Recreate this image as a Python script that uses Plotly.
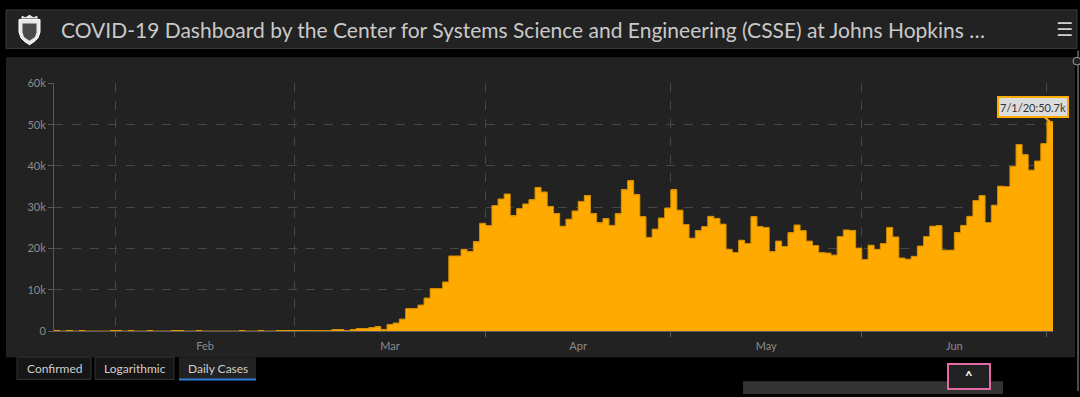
import pandas as pd
import plotly.graph_objects as go

# ---------------- data ----------------
start_date = "2020-01-22"
end_date = "2020-07-01"

jan_vals = [1, 0, 1, 0, 3, 0, 0, 0, 0, 2]
feb_vals = [1, 0, 3, 0, 0, 1, 0, 0, 0, 1, 1, 0, 0, 1, 0, 0, 0, 0, 0, 0,
            2, 0, 0, 20, 0, 0, 1, 1, 7]
mar_vals = [40, 70, 70, 90, 110, 100, 300, 300, 100, 300, 550, 550, 800, 1000,
            250, 1600, 1950, 2900, 5400, 5400, 6300, 8000, 10300, 10300, 11900,
            18200, 18200, 19800, 19200, 21600, 26100]
apr_vals = [25500, 30400, 32000, 33200, 27900, 29700, 30800, 31800, 34800, 33700,
            30200, 28500, 25400, 27100, 29100, 31400, 32800, 28400, 26200, 27200,
            25600, 28400, 34200, 36400, 33000, 27700, 22700, 24700, 27400, 29800]
may_vals = [34200, 29300, 25800, 22500, 24300, 25300, 27800, 27300, 25900, 19800,
            19000, 22000, 21200, 27700, 25300, 25100, 19200, 21800, 20500, 23800,
            25700, 24300, 21800, 20700, 19000, 18900, 18400, 22900, 24500, 24300,
            20100]
jun_vals = [17300, 20800, 19800, 21200, 25100, 22800, 17700, 17400, 18100, 20600,
            22900, 25400, 25500, 19600, 19600, 23800, 25600, 27800, 31600, 32800,
            26300, 30500, 35100, 35000, 39900, 45200, 42700, 39000, 41200, 45400]
jul_vals = [50700]

daily_cases = jan_vals + feb_vals + mar_vals + apr_vals + may_vals + jun_vals + jul_vals
dates = pd.date_range(start_date, end_date, freq="D")

y_tick_vals = [0, 10000, 20000, 30000, 40000, 50000, 60000]
y_tick_text = ["0", "10k", "20k", "30k", "40k", "50k", "60k"]

tab_labels = ["Confirmed", "Logarithmic", "Daily Cases"]
title_text = "COVID-19 Dashboard by the Center for Systems Science and Engineering (CSSE) at Johns Hopkins \u2026"
tooltip_text = "7/1/20:50.7k"

# ---------------- styling ----------------
W, H = 1080, 397
BAR = "#FFAA00"
PANEL = "#222222"
FONT = "Lato"


def px(x):
    return x / W


def py(y):
    return 1 - y / H


def rect(x0, y0, x1, y1, fill, line=None, lw=1, layer="below"):
    return dict(type="rect", xref="paper", yref="paper",
                x0=px(x0), x1=px(x1), y0=py(y1), y1=py(y0),
                fillcolor=fill, line=dict(color=line or fill, width=lw if line else 0),
                layer=layer)


fig = go.Figure()

fig.add_trace(go.Bar(
    x=dates, y=daily_cases,
    xperiod=86400000, xperiodalignment="middle",
    marker=dict(color=BAR, line=dict(width=0)),
    hovertemplate="%{x|%-m/%-d/%y}: %{y}<extra></extra>",
    showlegend=False,
))

# step outline on top of the bars
step_x = list(dates) + [dates[-1] + pd.Timedelta(days=1)]
step_y = daily_cases + [daily_cases[-1]]
fig.add_trace(go.Scatter(
    x=step_x, y=step_y, mode="lines", line=dict(color="#C98600", width=1, shape="hv"),
    hoverinfo="skip", showlegend=False,
))

x_range = [dates[0], dates[-1] + pd.Timedelta(days=1)]

shapes = [
    # title bar
    rect(6, 3, 1077, 43, "#222222", "#3a3a3a"),
    # chart panel
    rect(6, 52, 1075, 362, PANEL),
    # tabs
    rect(17, 362, 91, 385, "#161616", "#333333"),
    rect(95, 362, 174, 385, "#161616", "#333333"),
    rect(179, 362, 256, 385, PANEL),
    dict(type="line", xref="paper", yref="paper", x0=px(179), x1=px(256),
         y0=py(385), y1=py(385), line=dict(color="#2f7fd8", width=2)),
    # bottom right elements
    rect(743, 387, 1003, 400, "#333333"),
    rect(948, 369, 990, 395, "#222222", "#e36aa6", 2, layer="above"),
    # right scrollbar line
    dict(type="line", xref="paper", yref="paper", x0=px(1078), x1=px(1078),
         y0=py(45), y1=py(397), line=dict(color="#9a9a9a", width=1)),
    dict(type="circle", xref="paper", yref="paper", x0=px(1073), x1=px(1081),
         y0=py(60), y1=py(52), line=dict(color="#9a9a9a", width=1), fillcolor="#222222"),
]

# shield logo
def path_from(points):
    s = "M {:.5f},{:.5f}".format(px(points[0][0]), py(points[0][1]))
    for (a, b) in points[1:]:
        s += " L {:.5f},{:.5f}".format(px(a), py(b))
    return s + " Z"

shield = [(19, 13), (40, 13), (40, 26), (38, 32), (34, 36), (29.5, 39), (25, 36), (21, 32), (19, 26)]
shapes.append(dict(type="path", xref="paper", yref="paper", path=path_from(shield),
                   fillcolor="#e8e8e8", line=dict(color="#ffffff", width=1), layer="above"))
inner = [(22.5, 17), (36.5, 17), (36.5, 26), (35, 31), (29.5, 35), (24, 31), (22.5, 26)]
shapes.append(dict(type="path", xref="paper", yref="paper", path=path_from(inner),
                   fillcolor="#4a4a4a", line=dict(color="#4a4a4a", width=0), layer="above"))
crown = [(21, 12), (22, 9), (25.5, 10.5), (29.5, 8), (33.5, 10.5), (37, 9), (38, 12)]
shapes.append(dict(type="path", xref="paper", yref="paper", path=path_from(crown),
                   fillcolor="#e8e8e8", line=dict(color="#e8e8e8", width=0), layer="above"))

annotations = [
    dict(xref="paper", yref="paper", x=px(59), y=py(23), xanchor="left", yanchor="middle",
         text=title_text, showarrow=False, font=dict(family=FONT, size=21, color="#c9c9c9")),
    dict(xref="paper", yref="paper", x=px(1064), y=py(23), xanchor="center", yanchor="middle",
         text="\u2630", showarrow=False, font=dict(family="DejaVu Sans", size=19, color="#cfcfcf")),
    dict(xref="paper", yref="paper", x=px(969), y=py(381), xanchor="center", yanchor="middle",
         text="<b>^</b>", showarrow=False, font=dict(family=FONT, size=13, color="#ffffff")),
    # tooltip
    dict(x=dates[-1] + pd.Timedelta(hours=12), y=daily_cases[-1], xref="x", yref="y",
         text=tooltip_text, showarrow=True, ax=-17, ay=-15, arrowhead=0, arrowwidth=2,
         arrowcolor=BAR, standoff=0, bgcolor="#dcdcdc", bordercolor=BAR, borderwidth=2,
         borderpad=1, width=66, height=16,
         font=dict(family=FONT, size=11, color="#333333")),
]
tab_centers = [54, 134.5, 217.5]
for lbl, cx in zip(tab_labels, tab_centers):
    annotations.append(dict(xref="paper", yref="paper", x=px(cx), y=py(374),
                            xanchor="center", yanchor="middle", text=lbl, showarrow=False,
                            font=dict(family=FONT, size=12, color="#cfcfcf")))

fig.update_layout(
    width=W, height=H,
    margin=dict(l=0, r=0, t=0, b=0),
    paper_bgcolor="#000000",
    plot_bgcolor="rgba(0,0,0,0)",
    bargap=0,
    shapes=shapes,
    annotations=annotations,
    font=dict(family=FONT, color="#8a8a8a"),
    xaxis=dict(
        domain=[px(54), px(1053)],
        type="date", range=x_range,
        tick0="2020-02-01", dtick="M1", tickformat="%b", ticklabelmode="period",
        showgrid=True, gridcolor="#474747", griddash="dash", gridwidth=1,
        ticks="outside", ticklen=5, tickcolor="#5a5a5a",
        showline=True, linecolor="#5a5a5a", linewidth=1,
        tickfont=dict(family=FONT, size=11, color="#8c8c8c"),
        zeroline=False, fixedrange=True,
    ),
    yaxis=dict(
        domain=[py(335), py(79)],
        range=[0, 60000],
        tickvals=y_tick_vals, ticktext=y_tick_text,
        showgrid=True, gridcolor="#474747", griddash="dash", gridwidth=1,
        ticks="outside", ticklen=5, tickcolor="#5a5a5a",
        showline=True, linecolor="#5a5a5a", linewidth=1,
        tickfont=dict(family=FONT, size=11, color="#8c8c8c"),
        zeroline=False, fixedrange=True,
    ),
)

fig.write_html(
    "out.html",
    config={"displayModeBar": False},
    post_script="document.body.style.margin='0px';document.body.style.overflow='hidden';"
                "document.body.style.background='#000';",
)
